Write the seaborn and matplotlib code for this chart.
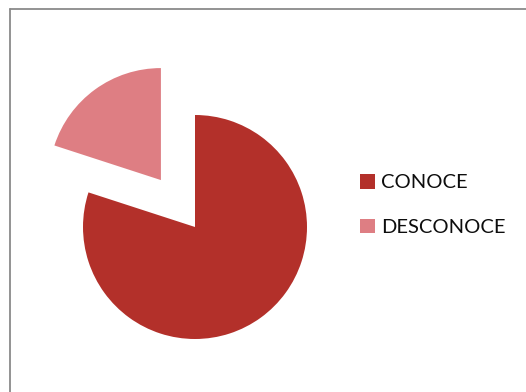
import matplotlib
matplotlib.use("Agg")
import matplotlib.pyplot as plt
from matplotlib.lines import Line2D
from matplotlib.patches import Patch
import seaborn as sns

# Survey result: share of respondents who know / don't know
categories = ["CONOCE", "DESCONOCE"]
values = [80, 20]
colors = ["#B3302A", "#DE7E83"]

sns.set_theme(style="white")
plt.rcParams["font.family"] = ["Lato", "DejaVu Sans"]

W, H = 526, 392
fig = plt.figure(figsize=(W / 100, H / 100), dpi=100)
fig.patch.set_facecolor("white")

# square axes, 100 px per data unit, pie centred at (195, 227) px from top-left
cx, cy, half = 195, H - 227, 200
ax = fig.add_axes([(cx - half) / W, (cy - half) / H, 2 * half / W, 2 * half / H])

ax.pie(values, colors=colors, radius=1.12, startangle=90, counterclock=False,
       explode=[0, 0.58], wedgeprops=dict(linewidth=0))
ax.set_xlim(-2, 2)
ax.set_ylim(-2, 2)
ax.set_aspect("equal")
ax.axis("off")

handles = [Patch(facecolor=c, edgecolor="none") for c in colors]
fig.legend(handles, categories, loc="center left",
           bbox_to_anchor=(342 / W, (H - 205) / H), frameon=False,
           fontsize=14.5, handlelength=0.72, handleheight=0.72,
           handletextpad=0.3, labelspacing=1.35, labelcolor="#0d0d0d")

# chart frame (top and left edges)
fig.add_artist(Line2D([10 / W, 1.0], [1 - 9 / H, 1 - 9 / H],
                      transform=fig.transFigure, color="#8a8a8a", lw=1.3))
fig.add_artist(Line2D([10 / W, 10 / W], [0, 1 - 9 / H],
                      transform=fig.transFigure, color="#8a8a8a", lw=1.3))

fig.savefig("out.png", dpi=100)
